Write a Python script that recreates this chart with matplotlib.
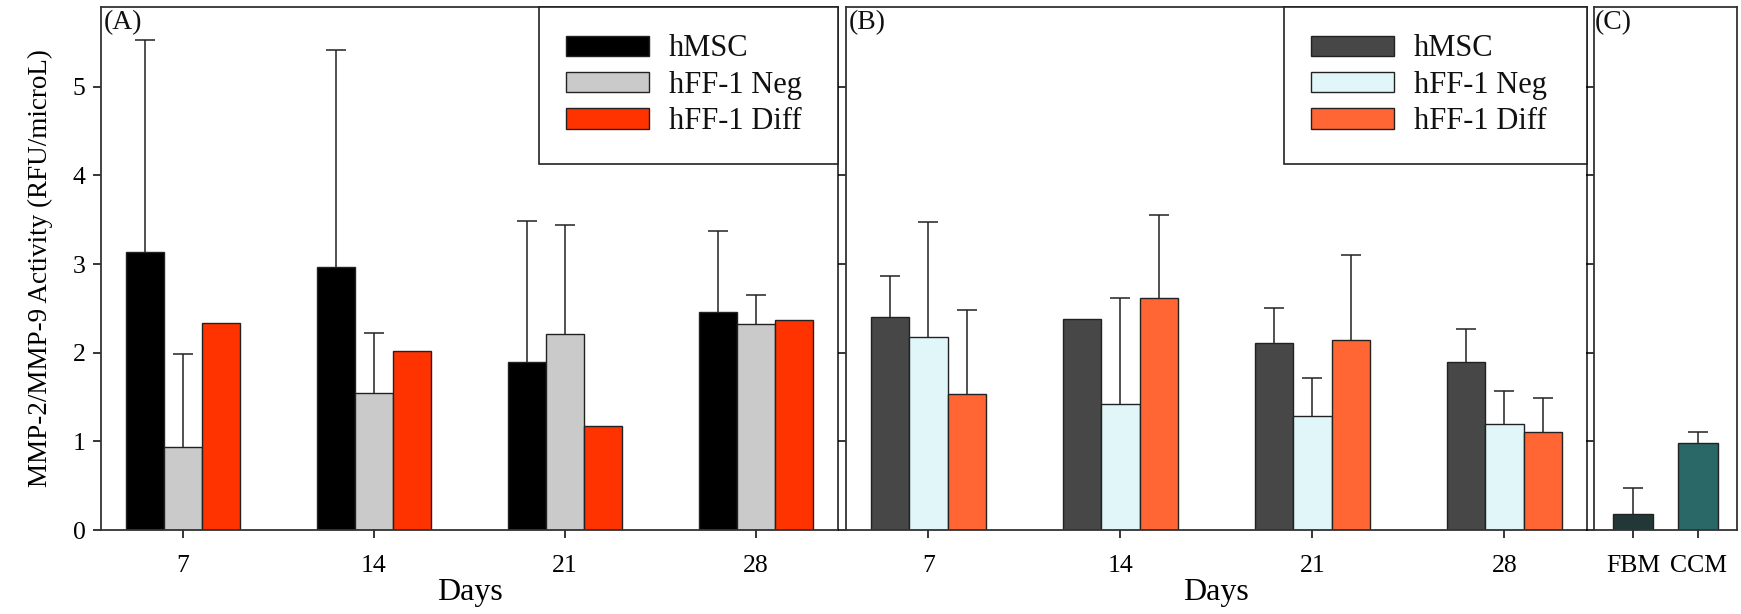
import numpy as np
import matplotlib.pyplot as plt

plt.rcParams['font.family'] = ['Liberation Serif', 'DejaVu Serif']
plt.rcParams['text.color'] = '#111111'
plt.rcParams['axes.edgecolor'] = '#333333'

days = ['7', '14', '21', '28']
series_names = ['hMSC', 'hFF-1 Neg', 'hFF-1 Diff']

# panel A: mean and top of error bar (nan = no error bar)
a_hmsc = [3.14, 2.97, 1.89, 2.46]
a_hmsc_top = [5.53, 5.42, 3.49, 3.37]
a_neg = [0.94, 1.54, 2.21, 2.32]
a_neg_top = [1.99, 2.22, 3.44, 2.65]
a_diff = [2.34, 2.02, 1.17, 2.37]
a_diff_top = [np.nan, np.nan, np.nan, np.nan]

# panel B
b_hmsc = [2.40, 2.38, 2.11, 1.90]
b_hmsc_top = [2.87, np.nan, 2.50, 2.27]
b_neg = [2.18, 1.42, 1.29, 1.20]
b_neg_top = [3.48, 2.62, 1.72, 1.57]
b_diff = [1.53, 2.62, 2.14, 1.10]
b_diff_top = [2.48, 3.55, 3.10, 1.49]

# panel C
c_names = ['FBM', 'CCM']
c_vals = [0.18, 0.98]
c_top = [0.47, 1.11]

colors_a = ['#000000', '#cacaca', '#ff3300']
colors_b = ['#474747', '#e0f6f9', '#ff6633']
colors_c = ['#223838', '#2a6767']


def draw_errors(ax, pos, vals, tops):
    pos = np.asarray(pos, dtype=float)
    vals = np.asarray(vals, dtype=float)
    tops = np.asarray(tops, dtype=float)
    ok = np.isfinite(tops)
    if not ok.any():
        return
    err = tops[ok] - vals[ok]
    _, caps, _ = ax.errorbar(pos[ok], vals[ok], yerr=[np.zeros(ok.sum()), err], fmt='none',
                             ecolor='#222222', elinewidth=1.1, capsize=7, capthick=1.1, zorder=1)
    # only the upper cap is drawn in the original
    caps[0].set_visible(False)


def grouped(ax, vals_list, tops_list, colors):
    x = np.arange(1, len(days) + 1)
    w = 0.2
    for i, (vals, tops, c, n) in enumerate(zip(vals_list, tops_list, colors, series_names)):
        pos = x + (i - 1) * w
        ax.bar(pos, vals, w, color=c, edgecolor='#222222', linewidth=1.0, label=n, zorder=2)
        draw_errors(ax, pos, vals, tops)
    ax.set_xticks(x)
    ax.set_xticklabels(days)
    ax.set_xlim(0.57, 4.43)
    ax.set_xlabel('Days', fontsize=23, labelpad=1)


def style(ax, label):
    ax.tick_params(direction='out', length=6, width=1.1, labelsize=18.5)
    ax.tick_params(axis='x', pad=12)
    ax.tick_params(axis='y', pad=5)
    for s in ax.spines.values():
        s.set_linewidth(1.3)
    ax.text(0.004, 0.995, label, transform=ax.transAxes, va='top', ha='left', fontsize=20)


def add_legend(ax, x0):
    leg = ax.legend(loc='upper left', bbox_to_anchor=(x0, 0, 1 - x0, 1), mode='expand',
                    borderaxespad=0, fontsize=22, handlelength=2.7, handleheight=0.65,
                    handletextpad=0.65, labelspacing=0.24, borderpad=0.9,
                    fancybox=False, framealpha=1, edgecolor='#222222')
    leg.get_frame().set_linewidth(1.2)


fig = plt.figure(figsize=(17.41, 6.14), dpi=100)
axA = fig.add_axes([0.058, 0.1368, 0.4233, 0.8518])
axB = fig.add_axes([0.4859, 0.1368, 0.4256, 0.8518], sharey=axA)
axC = fig.add_axes([0.9156, 0.1368, 0.0821, 0.8518], sharey=axA)

grouped(axA, [a_hmsc, a_neg, a_diff], [a_hmsc_top, a_neg_top, a_diff_top], colors_a)
grouped(axB, [b_hmsc, b_neg, b_diff], [b_hmsc_top, b_neg_top, b_diff_top], colors_b)

xc = np.arange(len(c_names))
axC.bar(xc, c_vals, 0.615, color=colors_c, edgecolor='#222222', linewidth=1.0, zorder=2)
draw_errors(axC, xc, c_vals, c_top)
axC.set_xticks(xc)
axC.set_xticklabels(c_names)
axC.set_xlim(-0.6, 1.6)

axA.set_ylim(0, 5.9)
axA.set_yticks([0, 1, 2, 3, 4, 5])
axA.set_ylabel('MMP-2/MMP-9 Activity (RFU/microL)', fontsize=19.5, labelpad=14)

style(axA, '(A)')
style(axB, '(B)')
style(axC, '(C)')
axB.tick_params(labelleft=False)
axC.tick_params(labelleft=False)

add_legend(axA, 0.594)
add_legend(axB, 0.591)

fig.savefig('out.png', dpi=100)
